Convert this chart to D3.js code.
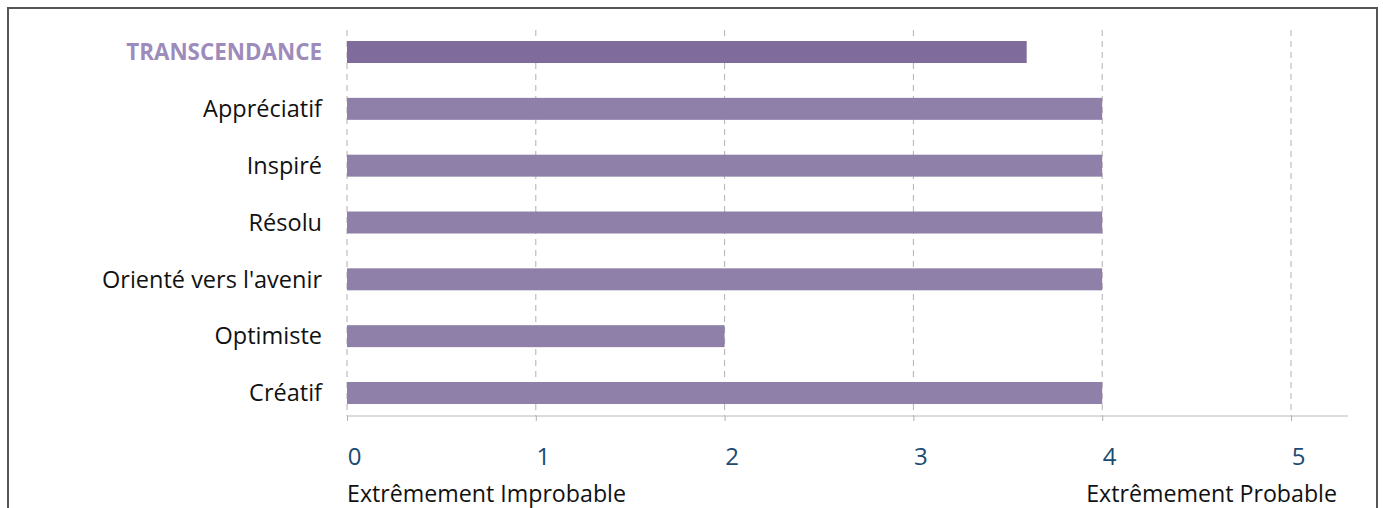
<!DOCTYPE html>
<html><head><meta charset="utf-8">
<script src="https://cdn.jsdelivr.net/npm/d3@7"></script>
<style>body{margin:0;background:#fff}svg{display:block}text{font-family:"Open Sans",sans-serif}</style>
</head><body><svg id="c" width="1383" height="508"></svg>
<script>
const categories = ["TRANSCENDANCE","Appréciatif","Inspiré","Résolu","Orienté vers l'avenir","Optimiste","Créatif"];
const values = [3.6, 4, 4, 4, 4, 2, 4];
const tickValues = [0,1,2,3,4,5];
const scaleLabels = ["Extrêmement Improbable","Extrêmement Probable"];

const svg = d3.select("#c");
// frame
svg.append("rect").attr("x",8).attr("y",8).attr("width",1369).attr("height",520)
  .attr("fill","none").attr("stroke","#555").attr("stroke-width",2);

const x = d3.scaleLinear().domain([0,5]).range([347,1291]);
const y = d3.scaleBand().domain(categories).range([23.6,421.4]).paddingInner(0.613).paddingOuter(0.3065);

const g = svg.append("g");
// gridlines
g.selectAll(".grid").data(tickValues.slice(1)).join("line")
  .attr("x1",d=>x(d)).attr("x2",d=>x(d)).attr("y1",30).attr("y2",416)
  .attr("stroke","#b0b0b0").attr("stroke-width",1).attr("stroke-dasharray","6,5");
// left axis line
g.append("line").attr("x1",x(0)).attr("x2",x(0)).attr("y1",30).attr("y2",416)
  .attr("stroke","#b0b0b0").attr("stroke-dasharray","6,5");

// bars
g.selectAll(".bar").data(categories).join("rect")
  .attr("x",x(0)).attr("y",d=>y(d)).attr("height",y.bandwidth())
  .attr("width",(d,i)=>x(values[i])-x(0))
  .attr("fill",(d,i)=>i===0?"#7f6b9c":"#8f80aa");

// x axis
const xAxis = d3.axisBottom(x).tickValues(tickValues).tickSize(5).tickFormat(d3.format("d"));
const ax = svg.append("g").attr("transform","translate(0,416)").call(xAxis);
ax.select(".domain").attr("d","M347,0H1348").attr("stroke","#b8b8b8");
ax.selectAll(".tick line").attr("stroke","#b0b0b0");
ax.selectAll(".tick text").attr("dx",7).attr("dy",0).attr("y",49)
  .attr("fill","#1b4a72").attr("font-size",24).attr("font-family","Open Sans");

// y labels
svg.selectAll(".ylab").data(categories).join("text")
  .attr("x",322).attr("y",d=>y(d)+y.bandwidth()/2).attr("dy","0.35em")
  .attr("text-anchor","end")
  .attr("font-size",(d,i)=>i===0?22.4:23.5)
  .attr("font-weight",(d,i)=>i===0?"bold":"normal")
  .attr("fill",(d,i)=>i===0?"#9d8cbb":"#111")
  .text(d=>d);

// scale end labels
svg.append("text").attr("x",347).attr("y",502).attr("font-size",23.2).attr("fill","#111").text(scaleLabels[0]);
svg.append("text").attr("x",1337).attr("y",502).attr("text-anchor","end").attr("font-size",23.2).attr("fill","#111").text(scaleLabels[1]);
</script></body></html>
